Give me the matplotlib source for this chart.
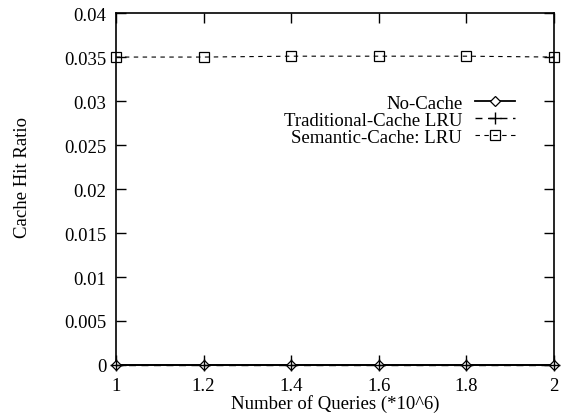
import matplotlib
matplotlib.use("Agg")
import matplotlib.pyplot as plt

# data
queries = [1.0, 1.2, 1.4, 1.6, 1.8, 2.0]
no_cache = [0, 0, 0, 0, 0, 0]
traditional_lru = [0, 0, 0, 0, 0, 0]
semantic_lru = [0.035, 0.035, 0.0351, 0.0351, 0.0351, 0.035]

x_ticks = [1, 1.2, 1.4, 1.6, 1.8, 2]
x_labels = ["1", "1.2", "1.4", "1.6", "1.8", "2"]
y_ticks = [0, 0.005, 0.01, 0.015, 0.02, 0.025, 0.03, 0.035, 0.04]
y_labels = ["0", "0.005", "0.01", "0.015", "0.02", "0.025", "0.03", "0.035", "0.04"]

plt.rcParams['font.family'] = ['Liberation Serif', 'DejaVu Serif']
fs = 13.5

fig = plt.figure(figsize=(5.65, 4.14), dpi=100)
ax = fig.add_axes([0.2053, 0.116, 0.7752, 0.850])

ax.plot(queries, no_cache, color='black', lw=1.3, marker='D', ms=5,
        mfc='white', mec='black', mew=0.9, label='No-Cache', clip_on=False, zorder=3)
ax.plot(queries, traditional_lru, color='black', lw=1.0, ls=(0, (5, 4)), marker='+',
        ms=8, mew=1.0, label='Traditional-Cache LRU', clip_on=False, zorder=4)
ax.plot(queries, semantic_lru, color='black', lw=0.8, ls=(0, (4, 4)), marker='s', ms=7.5,
        mfc='none', mec='black', mew=0.9, label='Semantic-Cache: LRU', clip_on=False, zorder=3)

ax.set_xlim(1, 2)
ax.set_ylim(0, 0.04)
ax.set_xticks(x_ticks)
ax.set_xticklabels(x_labels)
ax.set_yticks(y_ticks)
ax.set_yticklabels(y_labels)
ax.tick_params(axis='both', direction='in', top=True, right=True, length=7, width=1.0,
               labelsize=fs)
ax.tick_params(axis='x', pad=9)
ax.tick_params(axis='y', pad=7)
for s in ax.spines.values():
    s.set_linewidth(1.2)

ax.set_xlabel("Number of Queries (*10^6)", fontsize=fs, labelpad=0)
ax.set_ylabel("Cache Hit Ratio", fontsize=fs)
ax.yaxis.set_label_coords(-0.195, 0.535)

ax.legend(loc='upper right', bbox_to_anchor=(0.932, 0.795), frameon=False,
          markerfirst=False, fontsize=fs, handlelength=2.1, handletextpad=0.7,
          labelspacing=0.0, borderpad=0)

fig.savefig("out.png", dpi=100)
